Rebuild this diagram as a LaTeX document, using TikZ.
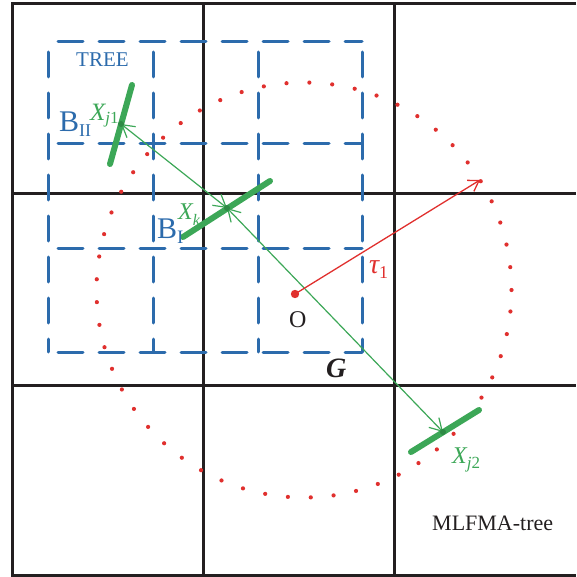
\documentclass[tikz,border=0pt]{standalone}
\usepackage{fontspec}
\setmainfont{Liberation Serif}
\usetikzlibrary{arrows.meta}
\definecolor{gridk}{HTML}{231F20}
\definecolor{treeb}{HTML}{2C6BAC}
\definecolor{grn}{HTML}{3CA757}
\definecolor{grndot}{HTML}{2E8A45}
\definecolor{rd}{HTML}{E0302E}
\newcommand{\fs}[1]{\fontsize{#1}{#1}\selectfont}
\begin{document}
\begin{tikzpicture}[x=1pt,y=-1pt,
  gridline/.style={draw=gridk,line width=3pt},
  treeline/.style={draw=treeb,line width=3pt,line cap=round,dash pattern=on 25pt off 16pt,dash phase=31pt},
  bar/.style={draw=grn,line width=6pt,line cap=round},
  conn/.style={draw=grn,line width=1.2pt,{Straight Barb[length=12pt,width=14pt]}-{Straight Barb[length=12pt,width=14pt]}},
  tauarrow/.style={draw=rd,line width=1.3pt,-{Straight Barb[length=10pt,width=13pt]}},
  lbl/.style={inner sep=0pt,anchor=base west}]
\useasboundingbox (0,0) rectangle (576,577);
% MLFMA grid
\draw[gridline] (576,4) -| (12,575) -- (576,575);
\draw[gridline] (203,4) -- (203,575);
\draw[gridline] (394,4) -- (394,575);
\draw[gridline] (12,194) -- (576,194);
\draw[gridline] (12,385) -- (576,385);
% TREE dashed grid
\foreach \x in {48,153,258,362} \draw[treeline] (\x,42) -- (\x,352);
\foreach \y in {42,144,248,352} \draw[treeline] (48,\y) -- (362,\y);
% dotted circle
\draw[rd,line width=4.2pt,line cap=round,dash pattern=on 0pt off 22.9pt] (304,290) circle[radius=207.5pt];
% points
\coordinate (Xj1) at (121,124);
\coordinate (Xk) at (227,208);
\coordinate (Xj2) at (443,432);
\coordinate (O) at (295,294);
\coordinate (T) at (480,180);
% thick segments
\coordinate (a1) at (132,85); \coordinate (a2) at (110,164);
\coordinate (b1) at (183,237); \coordinate (b2) at (270,181);
\coordinate (c1) at (411,452); \coordinate (c2) at (479,410);
\draw[bar] (a1) -- (a2);
\draw[bar] (b1) -- (b2);
\draw[bar] (c1) -- (c2);
% connectors
\draw[conn] (Xk) -- (Xj1);
\draw[conn] (Xk) -- (Xj2);
\fill[grndot] (Xj1) circle[radius=3pt];
\fill[grndot] (Xk) circle[radius=3pt];
\fill[grndot] (Xj2) circle[radius=3pt];
\draw[tauarrow] (O) -- (T);
\fill[rd] (O) circle[radius=4.2pt];
% labels
\node[lbl,text=treeb] (tree) at (76,67) {\fs{21}TREE};
\node[lbl,text=treeb] (bII) at (59,132) {\fs{30}B\raisebox{-5pt}{\fs{18}II}};
\node[lbl,text=grn] (xj1) at (90,121) {\fs{25}\itshape X\raisebox{-3pt}{\fs{17}j\upshape 1}};
\node[lbl,text=treeb] (bI) at (157,238) {\fs{30}B\raisebox{-5pt}{\fs{19}I}};
\node[lbl,text=grn] (xk) at (178,219) {\fs{24}\itshape X\raisebox{-6pt}{\fs{16}k}};
\node[lbl,text=rd] (tau) at (369,273) {\fs{28}\itshape τ\upshape\raisebox{-5pt}{\fs{18}1}};
\node[lbl,text=gridk] (o) at (289,327) {\fs{24}O};
\node[lbl,text=gridk] (g) at (326,377) {\fs{28}\bfseries\itshape G};
\node[lbl,text=grn] (xj2) at (452,463) {\fs{24}\itshape X\raisebox{-5pt}{\fs{17}j\upshape 2}};
\node[lbl,text=gridk] (mt) at (432,530) {\fs{22}MLFMA-tree};
\end{tikzpicture}
\end{document}
